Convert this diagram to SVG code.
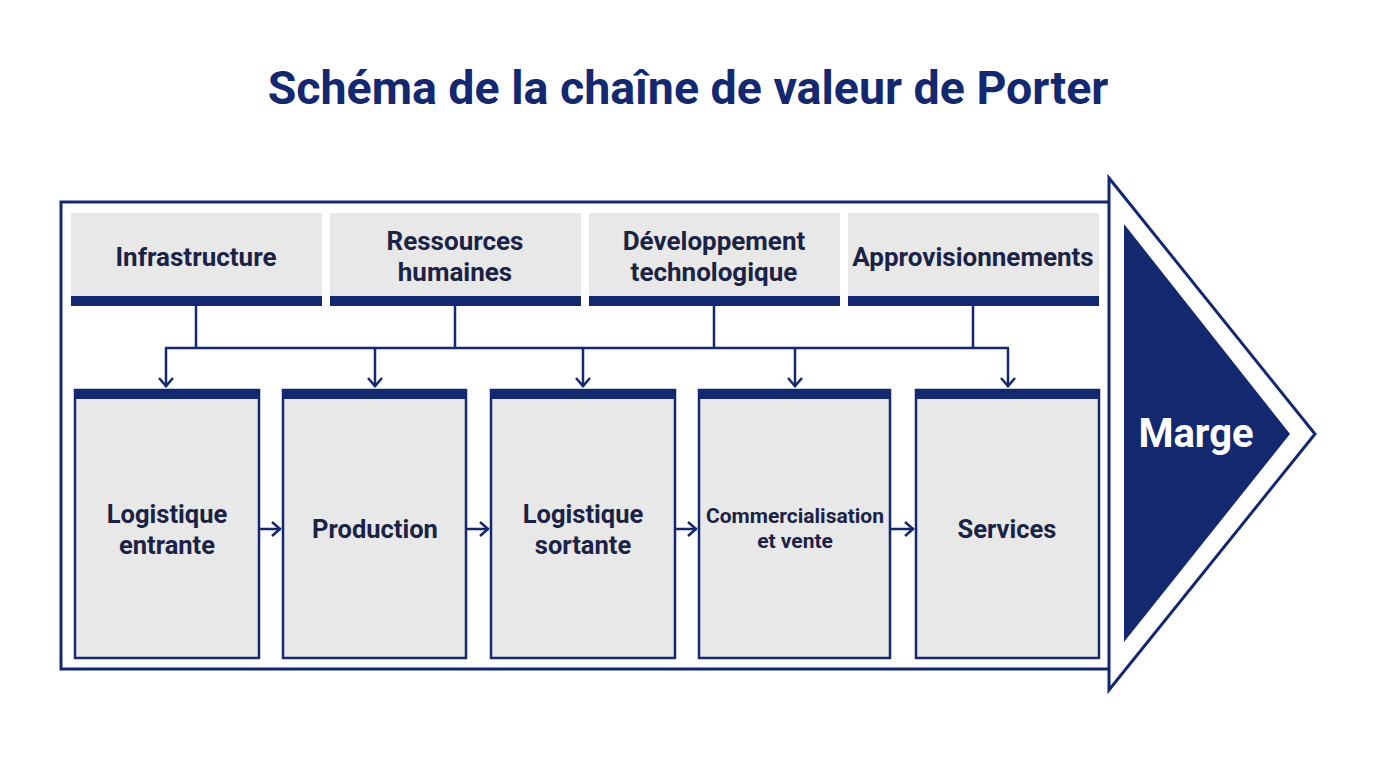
<svg xmlns="http://www.w3.org/2000/svg" width="1376" height="768" viewBox="0 0 1376 768">
  <defs>
    <marker id="arr" markerWidth="16" markerHeight="16" refX="11" refY="8" orient="auto" markerUnits="userSpaceOnUse">
      <polyline points="2,1 10,8 2,15" fill="none" stroke="#13286f" stroke-width="2.5" stroke-linejoin="miter"/>
    </marker>
    <style>
      .t { font-family: Roboto, "Liberation Sans", sans-serif; font-weight: bold; fill: #1a2246; text-anchor: middle; }
      .sup { fill: #e8e8e8; }
      .bar { fill: #13286f; }
      .prim { fill: #e8e8e8; stroke: #13286f; stroke-width: 2.5; }
      .con { fill: none; stroke: #13286f; stroke-width: 2.5; }
    </style>
  </defs>
  <rect width="1376" height="768" fill="#ffffff"/>
  <text x="688" y="104" class="t" style="font-size:46.5px;fill:#13286f">Schéma de la chaîne de valeur de Porter</text>

  <g id="frame">
    <path d="M1109,202 H61 V669 H1109" fill="none" stroke="#13286f" stroke-width="3"/>
  </g>
  <g id="marge">
    <polygon points="1109,178 1315,434 1109,690" fill="#ffffff" stroke="#13286f" stroke-width="3" stroke-linejoin="miter"/>
    <polygon points="1124,224 1290,434 1124,642" fill="#13286f"/>
    <text x="1196" y="447" class="t" style="font-size:40px;fill:#ffffff">Marge</text>
  </g>

  <g id="infrastructure">
    <rect class="sup" x="71" y="213" width="251" height="84"/>
    <rect class="bar" x="71" y="296" width="251" height="10"/>
    <text x="196" y="266" class="t" style="font-size:26px">Infrastructure</text>
  </g>
  <g id="rh">
    <rect class="sup" x="330" y="213" width="251" height="84"/>
    <rect class="bar" x="330" y="296" width="251" height="10"/>
    <text x="455" y="250" class="t" style="font-size:26px">Ressources</text>
    <text x="455" y="281" class="t" style="font-size:26px">humaines</text>
  </g>
  <g id="techno">
    <rect class="sup" x="589" y="213" width="251" height="84"/>
    <rect class="bar" x="589" y="296" width="251" height="10"/>
    <text x="714" y="250" class="t" style="font-size:26px">Développement</text>
    <text x="714" y="281" class="t" style="font-size:26px">technologique</text>
  </g>
  <g id="appro">
    <rect class="sup" x="848" y="213" width="251" height="84"/>
    <rect class="bar" x="848" y="296" width="251" height="10"/>
    <text x="973" y="266" class="t" style="font-size:26px">Approvisionnements</text>
  </g>

  <g id="log-in">
    <rect class="prim" x="75" y="390" width="184" height="268"/>
    <rect class="bar" x="74" y="389" width="186" height="10"/>
    <text x="167" y="523" class="t" style="font-size:25.5px">Logistique</text>
    <text x="167" y="554" class="t" style="font-size:25.5px">entrante</text>
  </g>
  <g id="production">
    <rect class="prim" x="283" y="390" width="183" height="268"/>
    <rect class="bar" x="282" y="389" width="185" height="10"/>
    <text x="375" y="538" class="t" style="font-size:25.5px">Production</text>
  </g>
  <g id="log-out">
    <rect class="prim" x="491" y="390" width="184" height="268"/>
    <rect class="bar" x="490" y="389" width="186" height="10"/>
    <text x="583" y="523" class="t" style="font-size:25.5px">Logistique</text>
    <text x="583" y="554" class="t" style="font-size:25.5px">sortante</text>
  </g>
  <g id="commercial">
    <rect class="prim" x="699" y="390" width="191" height="268"/>
    <rect class="bar" x="698" y="389" width="193" height="10"/>
    <text x="795" y="523" class="t" style="font-size:21px">Commercialisation</text>
    <text x="795" y="548" class="t" style="font-size:21px">et vente</text>
  </g>
  <g id="services">
    <rect class="prim" x="916" y="390" width="183" height="268"/>
    <rect class="bar" x="915" y="389" width="185" height="10"/>
    <text x="1007" y="538" class="t" style="font-size:25.5px">Services</text>
  </g>

  <g id="connectors">
    <line class="con" x1="196" y1="306" x2="196" y2="348"/>
    <line class="con" x1="455" y1="306" x2="455" y2="348"/>
    <line class="con" x1="714" y1="306" x2="714" y2="348"/>
    <line class="con" x1="973" y1="306" x2="973" y2="348"/>
    <line class="con" x1="165" y1="348" x2="1009" y2="348"/>
    <line class="con" x1="166" y1="348" x2="166" y2="387" marker-end="url(#arr)"/>
    <line class="con" x1="375" y1="348" x2="375" y2="387" marker-end="url(#arr)"/>
    <line class="con" x1="583" y1="348" x2="583" y2="387" marker-end="url(#arr)"/>
    <line class="con" x1="795" y1="348" x2="795" y2="387" marker-end="url(#arr)"/>
    <line class="con" x1="1008" y1="348" x2="1008" y2="387" marker-end="url(#arr)"/>
    <line class="con" x1="260" y1="529" x2="281" y2="529" marker-end="url(#arr)"/>
    <line class="con" x1="467" y1="529" x2="489" y2="529" marker-end="url(#arr)"/>
    <line class="con" x1="676" y1="529" x2="697" y2="529" marker-end="url(#arr)"/>
    <line class="con" x1="891" y1="529" x2="914" y2="529" marker-end="url(#arr)"/>
  </g>
</svg>
